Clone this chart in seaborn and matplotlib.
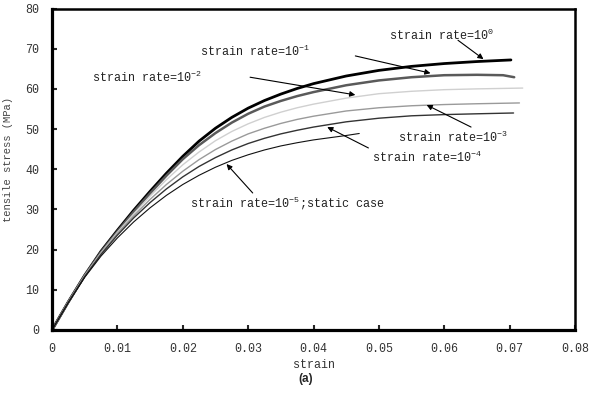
import numpy as np
import pandas as pd
import seaborn as sns
import matplotlib.pyplot as plt

# -----------------------------
# Data
# -----------------------------
strain_1e0 = [0, 0.0025, 0.005, 0.0075, 0.01, 0.0125, 0.015, 0.0175, 0.02, 0.0225,
              0.025, 0.0275, 0.03, 0.0325, 0.035, 0.0375, 0.04, 0.045, 0.05, 0.055,
              0.06, 0.065, 0.0702]
stress_1e0 = [0, 7.0, 13.6, 19.6, 24.8, 29.8, 34.5, 39.0, 43.2, 47.0,
              50.2, 52.9, 55.2, 57.1, 58.7, 60.1, 61.3, 63.2, 64.6, 65.6,
              66.3, 66.8, 67.2]

strain_1e1 = [0, 0.0025, 0.005, 0.0075, 0.01, 0.0125, 0.015, 0.0175, 0.02, 0.0225,
              0.025, 0.0275, 0.03, 0.0325, 0.035, 0.0375, 0.04, 0.045, 0.05, 0.055,
              0.06, 0.065, 0.069, 0.0707]
stress_1e1 = [0, 7.0, 13.6, 19.4, 24.5, 29.4, 34.0, 38.4, 42.5, 46.0,
              49.0, 51.6, 53.8, 55.6, 57.0, 58.2, 59.2, 60.9, 62.1, 62.9,
              63.4, 63.5, 63.4, 62.9]

strain_1e2 = [0, 0.0025, 0.005, 0.0075, 0.01, 0.0125, 0.015, 0.0175, 0.02, 0.0225,
              0.025, 0.0275, 0.03, 0.0325, 0.035, 0.0375, 0.04, 0.045, 0.05, 0.055,
              0.06, 0.065, 0.072]
stress_1e2 = [0, 7.0, 13.5, 19.2, 24.3, 28.9, 33.3, 37.4, 41.1, 44.3,
              47.1, 49.4, 51.3, 52.9, 54.2, 55.3, 56.2, 57.7, 58.8, 59.4,
              59.8, 60.0, 60.2]

strain_1e3 = [0, 0.0025, 0.005, 0.0075, 0.01, 0.0125, 0.015, 0.0175, 0.02, 0.0225,
              0.025, 0.0275, 0.03, 0.0325, 0.035, 0.0375, 0.04, 0.045, 0.05, 0.055,
              0.06, 0.065, 0.0715]
stress_1e3 = [0, 6.9, 13.4, 19.0, 24.0, 28.4, 32.5, 36.2, 39.5, 42.4,
              44.9, 47.0, 48.8, 50.2, 51.4, 52.4, 53.2, 54.5, 55.3, 55.8,
              56.1, 56.3, 56.5]

strain_1e4 = [0, 0.0025, 0.005, 0.0075, 0.01, 0.0125, 0.015, 0.0175, 0.02, 0.0225,
              0.025, 0.0275, 0.03, 0.0325, 0.035, 0.0375, 0.04, 0.045, 0.05, 0.055,
              0.06, 0.065, 0.0706]
stress_1e4 = [0, 6.9, 13.3, 18.8, 23.6, 27.9, 31.7, 35.1, 38.1, 40.7,
              42.9, 44.8, 46.4, 47.7, 48.8, 49.7, 50.5, 51.8, 52.7, 53.3,
              53.6, 53.8, 54.0]

strain_static = [0, 0.0025, 0.005, 0.0075, 0.01, 0.0125, 0.015, 0.0175, 0.02, 0.0225,
                 0.025, 0.0275, 0.03, 0.0325, 0.035, 0.0375, 0.04, 0.045, 0.047]
stress_static = [0, 6.8, 13.1, 18.4, 22.9, 26.9, 30.4, 33.5, 36.2, 38.5,
                 40.5, 42.2, 43.6, 44.8, 45.8, 46.6, 47.3, 48.4, 48.9]

series = [
    (strain_1e0, stress_1e0, '#000000', 2.0),
    (strain_1e1, stress_1e1, '#5a5a5a', 1.8),
    (strain_1e2, stress_1e2, '#d0d0d0', 1.0),
    (strain_1e3, stress_1e3, '#9a9a9a', 1.0),
    (strain_1e4, stress_1e4, '#333333', 1.0),
    (strain_static, stress_static, '#111111', 0.8),
]

# label text, text position, arrow tail, arrow head (data coords)
labels = [
    ('strain rate=10$^{0}$', (0.0515, 73.4), (0.0621, 72.1), (0.0660, 67.4)),
    ('strain rate=10$^{-1}$', (0.0227, 69.4), (0.0464, 68.2), (0.0579, 63.9)),
    ('strain rate=10$^{-2}$', (0.0061, 62.9), (0.0303, 62.9), (0.0464, 58.5)),
    ('strain rate=10$^{-3}$', (0.0530, 48.0), (0.0641, 50.5), (0.0573, 56.0)),
    ('strain rate=10$^{-4}$', (0.0490, 43.0), (0.0484, 45.3), (0.0421, 50.5)),
    ('strain rate=10$^{-5}$;static case', (0.0211, 31.8), (0.0307, 34.1), (0.0267, 41.3)),
]

# -----------------------------
# Style
# -----------------------------
sns.set_style('white')
plt.rcParams['font.family'] = ['Liberation Mono', 'DejaVu Sans Mono']
plt.rcParams['mathtext.fontset'] = 'custom'
plt.rcParams['mathtext.rm'] = 'Liberation Mono'
plt.rcParams['mathtext.it'] = 'Liberation Mono'

fig = plt.figure(figsize=(5.92, 3.94), dpi=100)
ax = fig.add_axes([52 / 592, 64 / 394, 523 / 592, 321.5 / 394])

for xs, ys, color, lw in series:
    df = pd.DataFrame({'strain': xs, 'stress': ys})
    sns.lineplot(data=df, x='strain', y='stress', color=color, linewidth=lw,
                 ax=ax, sort=False, estimator=None)

for text, tpos, tail, head in labels:
    ax.text(tpos[0], tpos[1], text, fontsize=8.5, ha='left', va='center', color='#222222')
    ax.annotate('', xy=head, xytext=tail,
                arrowprops=dict(arrowstyle='-|>', color='black', lw=0.8,
                                mutation_scale=8, shrinkA=0, shrinkB=0))

ax.set_xlim(0, 0.08)
ax.set_ylim(0, 80)
ax.set_xticks(np.arange(0, 0.0801, 0.01))
ax.set_xticklabels(['0', '0.01', '0.02', '0.03', '0.04', '0.05', '0.06', '0.07', '0.08'])
ax.set_yticks(np.arange(0, 81, 10))
ax.tick_params(axis='both', direction='in', length=3.5, width=1.5,
               labelsize=8.4, labelcolor='#333333', bottom=True, left=True)
ax.tick_params(axis='x', pad=9)
ax.tick_params(axis='y', pad=9)

for side in ['left', 'bottom']:
    ax.spines[side].set_linewidth(2.3)
for side in ['top', 'right']:
    ax.spines[side].set_linewidth(1.8)
for s in ax.spines.values():
    s.set_color('black')

ax.set_xlabel('strain', fontsize=8.4, color='#333333', labelpad=3)
ax.set_ylabel('tensile stress (MPa)', fontsize=7.6, color='#444444')
ax.yaxis.set_label_coords(-0.075, 0.53)

fig.text(306 / 592, 1 - 379 / 394, '(a)', fontsize=8.5, fontweight='bold',
         family='Liberation Sans', ha='center', va='center')

fig.savefig('out.png', dpi=100)
